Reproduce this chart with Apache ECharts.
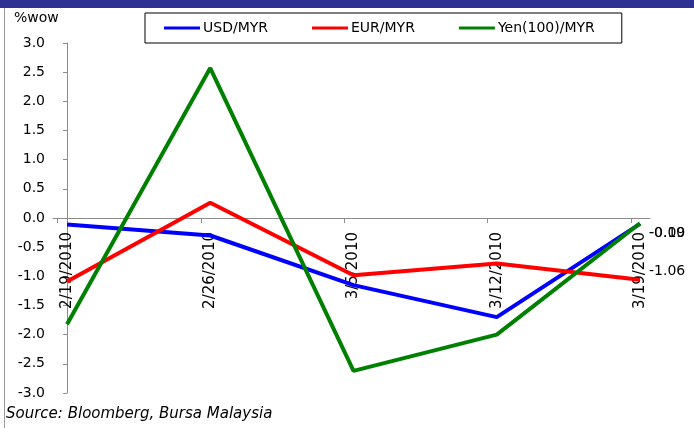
<!DOCTYPE html>
<html>
<head>
<meta charset="utf-8">
<script src="https://cdn.jsdelivr.net/npm/echarts@6/dist/echarts.min.js"></script>
<style>
  html, body { margin: 0; padding: 0; background: #fff; }
  #chart { width: 694px; height: 428px; }
</style>
</head>
<body>
<div id="chart"></div>
<script>
// weekly change (%wow) of ringgit crosses
var categories = ["2/19/2010", "2/26/2010", "3/5/2010", "3/12/2010", "3/19/2010"];
var usdMyr = [-0.11, -0.30, -1.15, -1.70, -0.10];
var eurMyr = [-1.09, 0.26, -0.98, -0.78, -1.06];
var yenMyr = [-1.82, 2.57, -2.62, -2.00, -0.09];
var yTicks = [-3, 3, 0.5]; // min, max, step

var chart = echarts.init(document.getElementById("chart"));

function pairs(arr) {
  return arr.map(function(v, i) {
    return [i, v];
  });
}

function lastLabel(offset) {
  return {
    show: true,
    distance: 9,
    offset: offset,
    color: "#000",
    fontFamily: "DejaVu Sans",
    fontSize: 14,
    formatter: function(p) {
      return p.value[1].toFixed(2);
    }
  };
}

var lineIcon = "rect";

var option = {
  animation: false,
  textStyle: { fontFamily: "DejaVu Sans" },
  graphic: [
    // top banner strip
    { type: "rect", left: 0, top: 0, shape: { width: 694, height: 8 }, style: { fill: "#2E3192" } },
    // left frame line
    { type: "rect", left: 4, top: 8, shape: { width: 1, height: 420 }, style: { fill: "#9a9a9a" } },
    {
      type: "text", left: 14, top: 11,
      style: { text: "%wow", fill: "#000", font: "14px 'DejaVu Sans'" }
    },
    {
      type: "text", left: 6, top: 407,
      style: { text: "Source: Bloomberg, Bursa Malaysia", fill: "#000", font: "italic 15px 'DejaVu Sans'" }
    }
  ],
  legend: {
    left: 145,
    top: 13,
    padding: [7, 27, 7, 19],
    borderColor: "#000",
    borderWidth: 1,
    itemWidth: 36,
    itemHeight: 3,
    itemGap: 44,
    textStyle: { color: "#000", fontSize: 14, fontFamily: "DejaVu Sans", padding: [0, 0, 0, -2], lineHeight: 16 },
    data: [
      { name: "USD/MYR", icon: lineIcon },
      { name: "EUR/MYR", icon: lineIcon },
      { name: "Yen(100)/MYR", icon: lineIcon }
    ]
  },
  grid: { left: 53, right: 44, top: 43, bottom: 35, outerBoundsMode: "none", containLabel: false },
  xAxis: {
    type: "value",
    min: -0.098,
    max: 4.07,
    offset: -175,
    splitLine: { show: false },
    axisLine: { onZero: false, lineStyle: { color: "#8c8c8c", width: 1 } },
    axisTick: {
      show: true,
      length: 5,
      customValues: [-0.065, 0.935, 1.935, 2.935, 3.94],
      lineStyle: { color: "#8c8c8c" }
    },
    axisLabel: {
      rotate: 90,
      margin: 14,
      color: "#000",
      fontSize: 15,
      fontFamily: "DejaVu Sans",
      customValues: [0, 1, 2, 3, 4],
      formatter: function(v) {
        return categories[Math.round(v)] || "";
      }
    }
  },
  yAxis: {
    type: "value",
    min: yTicks[0],
    max: yTicks[1],
    interval: yTicks[2],
    splitLine: { show: false },
    axisLine: { show: true, lineStyle: { color: "#8c8c8c" } },
    axisTick: { show: true, length: 4, lineStyle: { color: "#8c8c8c" } },
    axisLabel: {
      color: "#000",
      fontSize: 14,
      fontFamily: "DejaVu Sans",
      margin: 8,
      formatter: function(v) {
        return v.toFixed(1);
      }
    }
  },
  series: [
    {
      name: "USD/MYR",
      type: "line",
      data: pairs(usdMyr),
      symbol: "none",
      lineStyle: { color: "#0000FF", width: 4 },
      itemStyle: { color: "#0000FF" },
      endLabel: lastLabel([0, 10])
    },
    {
      name: "EUR/MYR",
      type: "line",
      data: pairs(eurMyr),
      symbol: "none",
      lineStyle: { color: "#FF0000", width: 4 },
      itemStyle: { color: "#FF0000" },
      endLabel: lastLabel([0, -8])
    },
    {
      name: "Yen(100)/MYR",
      type: "line",
      data: pairs(yenMyr),
      symbol: "none",
      lineStyle: { color: "#008000", width: 4 },
      itemStyle: { color: "#008000" },
      endLabel: lastLabel([0, 10])
    }
  ]
};

chart.setOption(option);
</script>
</body>
</html>
